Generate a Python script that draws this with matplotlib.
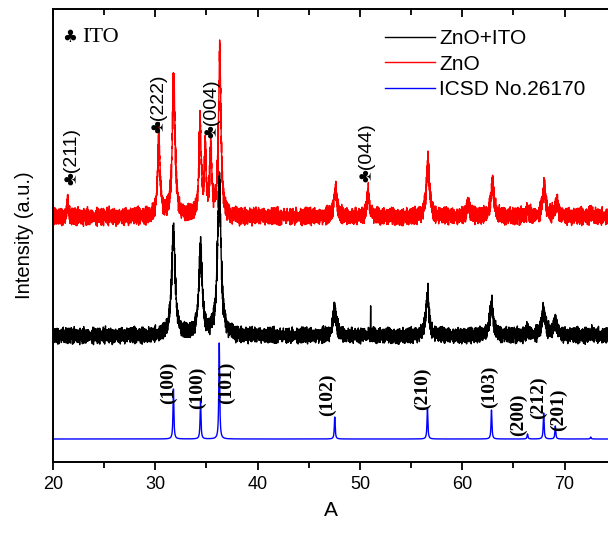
import numpy as np
import matplotlib
matplotlib.use("Agg")
import matplotlib.pyplot as plt
from matplotlib.lines import Line2D
from matplotlib.ticker import MultipleLocator

# ---------------- data ----------------
# two-theta grid of the scans
two_theta = np.arange(20.0, 74.31, 0.01)

# ICSD No.26170 reference peaks (position, relative intensity)
icsd_pos = [31.77, 34.42, 36.25, 47.54, 56.60, 62.86, 66.38, 67.96, 69.10, 72.56]
icsd_int = [50, 38, 96, 22, 31, 29, 5, 26, 13, 2]
icsd_hkl = ["(100)", "(100)", "(101)", "(102)", "(210)", "(103)", "(200)", "(212)", "(201)"]
icsd_label_x = [31.30, 34.17, 37.00, 46.80, 56.07, 62.70, 65.45, 67.50, 69.36]
icsd_label_y = [79, 74, 79, 67, 73, 75, 47, 64, 52]

# ZnO+ITO measured pattern: peak positions, heights, half widths
znoito_pos = [31.77, 34.42, 36.25, 47.54, 51.05, 56.60, 56.66, 62.86, 66.40, 67.95, 69.10, 72.60]
znoito_int = [105, 83, 152, 26, 30, 36, 22, 31, 5, 26, 14, 3]
znoito_hw = [0.20, 0.20, 0.20, 0.20, 0.015, 0.20, 0.015, 0.20, 0.20, 0.20, 0.20, 0.20]

# ZnO measured pattern
zno_pos = [21.45, 30.35, 31.80, 34.38, 34.88, 35.42, 36.30, 47.60, 50.80, 56.65, 60.60, 62.95, 66.40, 68.00, 69.25, 72.65]
zno_int = [18, 78, 136, 92, 58, 66, 163, 27, 25, 53, 12, 34, 6, 29, 14, 4]
zno_hw = [0.06, 0.14, 0.16, 0.13, 0.10, 0.12, 0.14, 0.18, 0.13, 0.18, 0.20, 0.18, 0.18, 0.18, 0.18, 0.18]

# ITO reflections marked on the ZnO pattern
ito_labels = ["\u2663(211)", "\u2663(222)", "\u2663(004)", "\u2663(044)"]
ito_label_x = [21.86, 30.36, 35.54, 50.70]
ito_label_y = [277, 329, 324, 280]

# hand-typed detector noise samples (counts, arbitrary units)
noise_a = [0.3, -0.8, 0.6, -0.2, 0.9, -0.6, 0.1, -0.9, 0.5, 0.2, -0.4, 0.8, -0.7, 0.0, 0.7,
           -0.3, 0.4, -1.0, 0.6, -0.1, 0.9, -0.5, 0.2, -0.8, 0.3, 1.0, -0.6, 0.1, -0.2, 0.7,
           -0.9, 0.5, -0.4, 0.8, 0.0, -0.7, 0.6, -0.3, 0.2, -0.6, 0.9, -0.1, 0.4, -0.8, 0.7,
           -0.5, 0.1, 0.6, -0.9, 0.3, -0.2, 0.8, -0.4, 0.5, -0.7, 0.0, 0.9, -0.3, 0.4, -0.6, 0.2]
noise_b = [0.2, -0.3, 0.5, -0.6, 0.1, 0.4, -0.2, 0.7, -0.5, 0.0, 0.3, -0.7, 0.6, -0.1, 0.2,
           -0.4, 0.8, -0.2, 0.1, -0.6, 0.4, 0.0, -0.3, 0.6, -0.5, 0.3, -0.1, 0.5, -0.4, 0.2,
           0.7, -0.6, 0.1, -0.2, 0.4, -0.5, 0.6, 0.0, -0.3, 0.2, 0.5, -0.7, 0.3, -0.1, 0.6,
           -0.4, 0.1, 0.4, -0.6, 0.2, -0.2, 0.5, 0.0, -0.5, 0.3, 0.6, -0.3, 0.1, -0.4, 0.5,
           -0.1, 0.2, -0.6, 0.4, 0.0, -0.2, 0.7, -0.5, 0.3, 0.1, -0.4]

# vertical offsets of the stacked patterns
offset_icsd, offset_znoito, offset_zno = 23, 126, 245
noise_amp_znoito, noise_amp_zno = 5.5, 6.0


def profile(x, pos, inten, hw):
    y = np.zeros_like(x)
    for p, i, w in zip(pos, inten, hw):
        y += i / (1.0 + ((x - p) / w) ** 2)
    return y


n = len(two_theta)
noise = np.resize(noise_a, n) + np.resize(noise_b, n)

p_icsd = profile(two_theta, icsd_pos, icsd_int, [0.05] * len(icsd_pos))
p_znoito = profile(two_theta, znoito_pos, znoito_int, znoito_hw)
p_zno = profile(two_theta, zno_pos, zno_int, zno_hw)

y_icsd = offset_icsd + p_icsd
y_znoito = offset_znoito + p_znoito + noise_amp_znoito * noise * (1 + p_znoito / 120)
y_zno = offset_zno + p_zno + noise_amp_zno * np.roll(noise, 37) * (1 + p_zno / 100)

# ---------------- figure ----------------
plt.rcParams['font.family'] = ['Liberation Sans', 'DejaVu Sans']
fig = plt.figure(figsize=(6.08, 5.34), dpi=100)
ax = fig.add_axes([53 / 608, 72 / 534, 555 / 608, 453 / 534])

ax.plot(two_theta, y_znoito, color='black', lw=1.0)
ax.plot(two_theta, y_zno, color='#ff0000', lw=1.0)
ax.plot(two_theta, y_icsd, color='#0000ff', lw=1.0)

ax.set_xlim(20, 74.25)
ax.set_ylim(0, 453)

for lbl, x, y in zip(icsd_hkl, icsd_label_x, icsd_label_y):
    ax.text(x, y, lbl, rotation=90, ha='center', va='center', fontsize=14,
            fontweight='bold', family=['Liberation Serif', 'DejaVu Serif'])

for lbl, x, y in zip(ito_labels, ito_label_x, ito_label_y):
    ax.text(x, y, lbl, rotation=90, ha='center', va='bottom', fontsize=14,
            family=['Liberation Sans', 'DejaVu Sans'])

ax.text(0.016, 0.938, "\u2663", transform=ax.transAxes, fontsize=12, va='center', ha='left',
        family=['DejaVu Sans'])
ax.text(0.052, 0.938, "ITO", transform=ax.transAxes, fontsize=16, va='center', ha='left',
        family=['Liberation Serif'])

handles = [Line2D([], [], color='black', lw=1.0),
           Line2D([], [], color='#ff0000', lw=1.0),
           Line2D([], [], color='#0000ff', lw=1.0)]
ax.legend(handles, ["ZnO+ITO", "ZnO", "ICSD No.26170"], loc='upper left',
          bbox_to_anchor=(0.598, 0.955), frameon=False, fontsize=15,
          handlelength=2.4, handletextpad=0.2, labelspacing=0.3,
          borderpad=0, borderaxespad=0)

ax.set_xlabel("A", fontsize=15, labelpad=6)
ax.set_ylabel("Intensity (a.u.)", fontsize=14.5, labelpad=14)

ax.xaxis.set_major_locator(MultipleLocator(10))
ax.xaxis.set_minor_locator(MultipleLocator(5))
ax.set_yticks([])
ax.tick_params(axis='x', which='major', direction='out', length=6, width=1.3, labelsize=13,
               top=True, pad=4)
ax.tick_params(axis='x', which='minor', direction='out', length=4, width=1.3, top=True)
ax.spines['right'].set_visible(False)
for s in ('left', 'bottom', 'top'):
    ax.spines[s].set_linewidth(1.4)

# top ticks pointing inward
for t in ax.xaxis.get_major_ticks() + ax.xaxis.get_minor_ticks():
    t.tick2line.set_marker(matplotlib.markers.TICKDOWN)

fig.savefig("out.png", dpi=100)
